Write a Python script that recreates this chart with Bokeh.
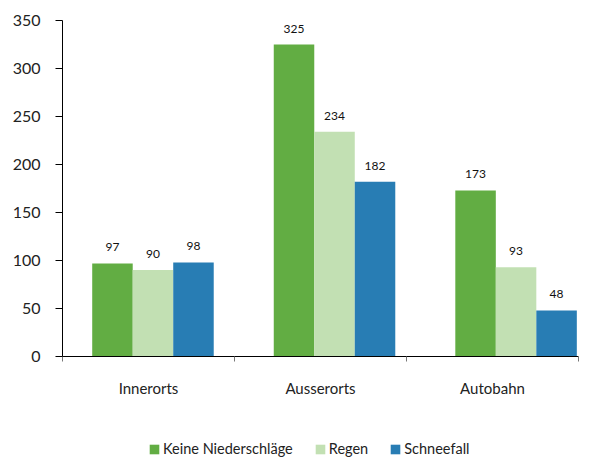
from bokeh.plotting import figure
from bokeh.layouts import column
from bokeh.models import (ColumnDataSource, FixedTicker, LinearAxis, Legend,
                          LegendItem, Range1d)
from bokeh.core.properties import value
from bokeh.embed import file_html
from bokeh.resources import INLINE

categories = ["Innerorts", "Ausserorts", "Autobahn"]
series_names = ["Keine Niederschläge", "Regen", "Schneefall"]
keine = [97, 325, 173]
regen = [90, 234, 93]
schnee = [98, 182, 48]
y_ticks = [0, 50, 100, 150, 200, 250, 300, 350]

colors = ["#62ad43", "#c2e0b3", "#287db4"]
FONT = "Lato"
TEXT = "#222222"

# bar groups sit on a slightly wider pitch than the category separators
group_start = 0.526
group_step = 1.0555
bar_w = 0.2355

p = figure(width=612, height=404, output_backend="svg",
           toolbar_location=None,
           x_range=Range1d(0, 3), y_range=Range1d(0, 350),
           min_border_left=62, min_border_right=34, min_border_top=20,
           min_border_bottom=48, x_axis_type=None, y_axis_type=None)
p.outline_line_color = None
p.grid.visible = False

offsets = [-bar_w, 0.0, bar_w]
for vals, col, off in zip([keine, regen, schnee], colors, offsets):
    xs = [group_start + i * group_step + off for i in range(len(categories))]
    src = ColumnDataSource(dict(x=xs, top=vals, label=[str(v) for v in vals]))
    p.vbar(x="x", top="top", width=bar_w, source=src, fill_color=col,
           line_color=None)
    p.text(x="x", y="top", text="label", source=src, text_align="center",
           text_baseline="bottom", y_offset=-12, text_font_size="12px",
           text_font=value(FONT), text_color="#111111")

# y axis
yax = LinearAxis(ticker=FixedTicker(ticks=y_ticks))
yax.axis_line_color = "black"
yax.major_tick_line_color = "black"
yax.major_tick_out = 7
yax.major_tick_in = 0
yax.minor_tick_line_color = None
yax.major_label_text_font = FONT
yax.major_label_text_font_size = "16px"
yax.major_label_text_color = TEXT
yax.major_label_standoff = 15
p.add_layout(yax, "left")

# x axis with group separators
xax = LinearAxis(ticker=FixedTicker(ticks=[0, 1, 2, 3]))
xax.axis_line_color = "black"
xax.major_tick_line_color = "#777777"
xax.major_tick_out = 5
xax.major_tick_in = 0
xax.minor_tick_line_color = None
xax.major_label_text_alpha = 0
xax.major_label_text_font_size = "1px"
xax.major_label_standoff = 0
p.add_layout(xax, "below")

# category names
cax = LinearAxis(ticker=FixedTicker(ticks=[0.5, 1.5, 2.5]),
                 major_label_overrides={0.5: categories[0], 1.5: categories[1],
                                        2.5: categories[2]})
cax.axis_line_color = None
cax.major_tick_line_color = None
cax.minor_tick_line_color = None
cax.major_label_text_font = FONT
cax.major_label_text_font_size = "15px"
cax.major_label_text_color = TEXT
cax.major_label_standoff = 11
p.add_layout(cax, "below")

# legend strip underneath the chart; swatch renderers have zero height
leg = figure(width=612, height=53, output_backend="svg", toolbar_location=None,
             x_range=Range1d(0, 1), y_range=Range1d(0, 1),
             min_border_left=0, min_border_right=0, min_border_top=0,
             min_border_bottom=0, x_axis_type=None, y_axis_type=None)
leg.outline_line_color = None
leg.grid.visible = False
items = []
for name, col in zip(series_names, colors):
    r = leg.vbar(x=[0.5], top=[0], bottom=[0], width=0.01, fill_color=col,
                 line_color=None)
    items.append(LegendItem(label=name, renderers=[r]))

legend = Legend(items=items, orientation="horizontal", location=(86, 0))
legend.label_text_font = FONT
legend.label_text_font_size = "14.5px"
legend.label_text_color = TEXT
legend.glyph_width = 12
legend.glyph_height = 12
legend.spacing = 21
legend.label_standoff = 3
legend.border_line_color = None
legend.background_fill_alpha = 0
legend.padding = 0
legend.margin = 0
leg.add_layout(legend, "center")

layout = column(p, leg, spacing=0)
open("out.html", "w").write(file_html(layout, INLINE))
